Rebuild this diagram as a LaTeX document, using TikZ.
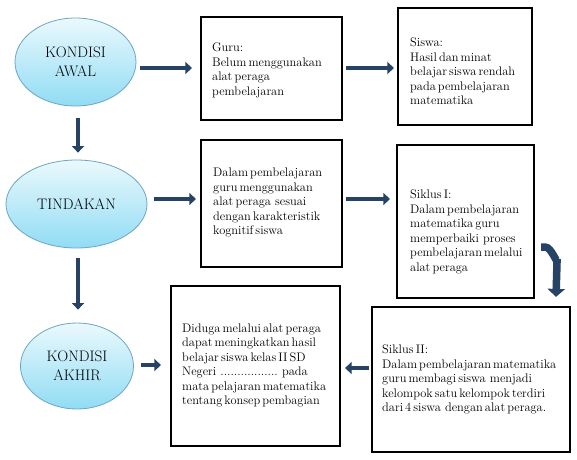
\documentclass[tikz,border=0pt]{standalone}
\usetikzlibrary{arrows.meta,shapes.geometric,calc}
\definecolor{ellTop}{RGB}{234,249,253}
\definecolor{ellBot}{RGB}{145,220,244}
\definecolor{ellLine}{RGB}{110,165,195}
\definecolor{arrowBlue}{RGB}{38,66,100}
\newcommand{\myboxfont}{\fontsize{12.4}{14.5}\selectfont\spaceskip=0.17em plus 0.05em\relax}
\newcommand{\myellfont}{\fontsize{15.2}{19}\selectfont}
\begin{document}
\begin{tikzpicture}[x=1pt,y=-1pt,
  ell/.style={ellipse, draw=ellLine, line width=0.8pt, top color=ellTop, bottom color=ellBot, inner sep=0pt, font=\myellfont, align=center},
  box/.style={draw=black, line width=2.2pt, inner sep=0pt, fill=white},
  txt/.style={anchor=north west, inner sep=0pt, align=left, font=\myboxfont},
  blk/.style={draw=arrowBlue, line width=4.5pt, -{Triangle[length=6.5pt,width=12pt]}},
  carrow/.style={draw=arrowBlue, line width=7.5pt, -{Triangle[length=8pt,width=17pt]}}
]
\useasboundingbox[fill=white] (0,0) rectangle (577,459);

% ellipses
\node[ell, minimum width=121pt, minimum height=88pt] (e1) at (75.5,62) {KONDISI\\AWAL};
\node[ell, minimum width=141pt, minimum height=88pt] (e2) at (76.5,204) {TINDAKAN};
\node[ell, minimum width=113pt, minimum height=86pt] (e3) at (77,366) {KONDISI\\AKHIR};

% boxes
\node[box, minimum width=141pt, minimum height=103pt] (b1) at (271.5,68.5) {};
\node[box, minimum width=134pt, minimum height=117pt] (b2) at (465,66.5) {};
\node[box, minimum width=141pt, minimum height=127pt] (b3) at (271.5,203.5) {};
\node[box, minimum width=137pt, minimum height=153pt] (b4) at (465.5,221.5) {};
\node[box, minimum width=198pt, minimum height=145pt] (b5) at (471,379.5) {};
\node[box, minimum width=169pt, minimum height=160pt] (b6) at (255.5,366) {};

% texts
\node[txt] (t1) at (212,43) {Guru:\\Belum menggunakan\\alat peraga\\pembelajaran};
\node[txt] (t2) at (410,38) {Siswa:\\Hasil dan minat\\belajar siswa rendah\\pada pembelajaran\\matematika};
\node[txt] (t3) at (213,168) {Dalam pembelajaran\\guru menggunakan\\alat peraga\ \ sesuai\\dengan karakteristik\\kognitif siswa};
\node[txt] (t4) at (410,190) {Siklus I:\\Dalam pembelajaran\\matematika guru\\memperbaiki\ \ proses\\pembelajaran melalui\\alat peraga};
\node[txt] (t5) at (382,345) {Siklus II:\\Dalam pembelajaran matematika\\guru membagi siswa\ \ menjadi\\kelompok satu kelompok terdiri\\dari 4 siswa\ \ dengan alat peraga.};
\node[txt] (t6) at (182,323.5) {Diduga melalui alat peraga\\dapat meningkatkan hasil\\belajar siswa kelas II SD\\Negeri\ \ .................\ \ pada\\mata pelajaran matematika\\tentang konsep pembagian};

% arrows
\draw[blk] ($(e1.east)+(4,6)$) -- ($(b1.west)+(-8,-0.5)$);
\draw[blk] ($(b1.east)+(3,-0.5)$) -- ($(b2.west)+(-3,1.5)$);
\draw[blk] ($(e1.south)+(2.5,12)$) -- ($(e2.north)+(1.5,-7)$);
\draw[blk] ($(e2.east)+(7,-5)$) -- ($(b3.west)+(-4,-4.5)$);
\draw[blk] ($(b3.east)+(3,-4.5)$) -- ($(b4.west)+(-6,-22.5)$);
\draw[blk] ($(e2.south)+(1.5,10)$) -- ($(e3.north)+(1,-13)$);
\draw[blk] ($(e3.east)+(7,-1)$) -- ($(b6.west)+(-9,-1)$);
\draw[blk] ($(b5.west)+(-2,-11.5)$) -- ($(b6.east)+(4,2)$);
\draw[carrow] ($(b4.east)+(6,25.5)$) -- ++(4,0) to[out=0,in=-90] ++(12,12) -- ($(b5.north)+(85,-9)$);
\end{tikzpicture}
\end{document}
